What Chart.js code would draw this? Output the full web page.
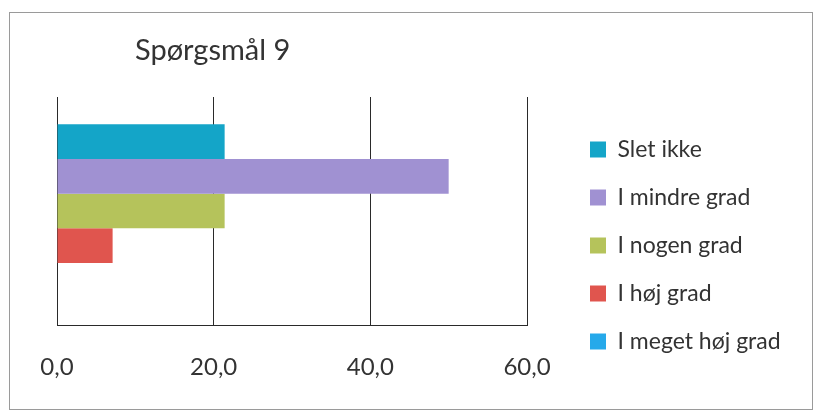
<!DOCTYPE html>
<html>

<head>
  <meta charset="utf-8">
  <script src="https://cdn.jsdelivr.net/npm/chart.js"></script>
  <style>
    body { margin: 0; background: #ffffff; }
    canvas { display: block; }
  </style>
</head>

<body>
  <canvas id="chart" width="819" height="414"></canvas>

  <script>
    // data
    const categories = [""];
    const seriesLabels = ["Slet ikke", "I mindre grad", "I nogen grad", "I høj grad", "I meget høj grad"];
    const seriesValues = [21.4, 50.0, 21.4, 7.1, 0.0];
    const xTicks = [0, 20, 40, 60];
    const chartTitle = "Spørgsmål 9";

    const seriesColors = ["#14a5c8", "#a091d2", "#b5c35b", "#e0554e", "#26a9ea"];
    const textColor = "#333333";
    const lineColor = "#2a2a2a";
    const legendWidth = 254;

    const datasets = seriesLabels.map((label, i) => ({
      label: label,
      data: [seriesValues[i]],
      backgroundColor: seriesColors[i],
      borderWidth: 0,
      categoryPercentage: 0.76,
      barPercentage: 1.0
    }));

    // title sits left of centre in the original, and the whole thing has a thin frame
    const decorations = {
      id: "decorations",
      afterInit(chart) {
        // the layout caps a right legend at a fraction of the width, so force it wider
        const legend = chart.legend;
        const fit = legend.fit.bind(legend);
        legend.fit = function () {
          fit();
          this.width = legendWidth;
        };
      },
      beforeDraw(chart) {
        const ctx = chart.ctx;
        ctx.save();
        ctx.fillStyle = "#ffffff";
        ctx.fillRect(0, 0, chart.width, chart.height);
        ctx.strokeStyle = "#9a9a9a";
        ctx.lineWidth = 1;
        ctx.strokeRect(9.5, 12.5, 803, 397);
        ctx.restore();
      },
      afterDraw(chart) {
        const ctx = chart.ctx;
        ctx.save();
        ctx.fillStyle = textColor;
        ctx.font = "29px Lato";
        ctx.textBaseline = "alphabetic";
        ctx.fillText(chartTitle, 135, 60);
        ctx.restore();
      }
    };

    new Chart(document.getElementById("chart"), {
      type: "bar",
      data: {
        labels: categories,
        datasets: datasets
      },
      plugins: [decorations],
      options: {
        indexAxis: "y",
        responsive: false,
        animation: false,
        layout: {
          padding: { top: 97, left: 0, right: 0, bottom: 20 }
        },
        scales: {
          x: {
            type: "linear",
            min: 0,
            max: 60,
            afterBuildTicks(scale) {
              scale.ticks = xTicks.map(v => ({ value: v }));
            },
            afterFit(scale) {
              scale.height = 69;
            },
            ticks: {
              padding: 28,
              color: textColor,
              font: { family: "Lato", size: 24 },
              callback: v => v.toFixed(1).replace(".", ",")
            },
            grid: {
              color: lineColor,
              lineWidth: 1,
              drawTicks: false
            },
            border: { color: lineColor, width: 1 }
          },
          y: {
            position: "left",
            afterFit(scale) {
              scale.width = 57;
            },
            ticks: { display: false },
            grid: { display: false },
            border: { display: false }
          },
          gap: {
            type: "linear",
            position: "right",
            afterFit(scale) {
              scale.width = 38;
            },
            ticks: { display: false },
            grid: { display: false },
            border: { display: false }
          }
        },
        plugins: {
          legend: {
            position: "right",
            align: "center",
            labels: {
              color: textColor,
              font: { family: "Lato", size: 23 },
              boxWidth: 16,
              boxHeight: 16,
              padding: 25
            }
          },
          tooltip: { enabled: false }
        }
      }
    });
  </script>
</body>

</html>
